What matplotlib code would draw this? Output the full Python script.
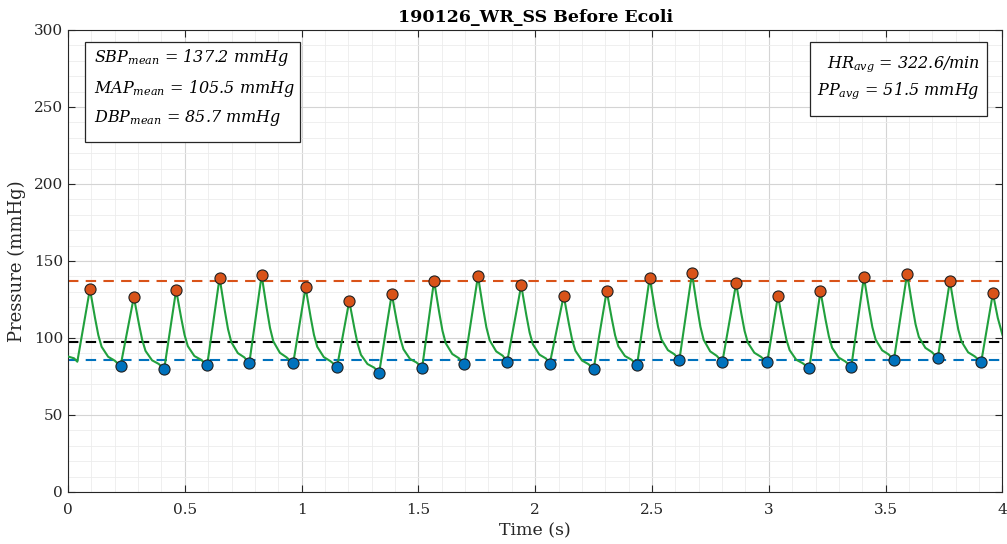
import numpy as np
import matplotlib
matplotlib.use('Agg')
import matplotlib.pyplot as plt
from matplotlib.patches import Rectangle
from matplotlib.ticker import MultipleLocator

plt.rcParams['font.family'] = ['DejaVu Serif']
plt.rcParams['mathtext.fontset'] = 'dejavuserif'

# ---- data ----
title = '190126_WR_SS Before Ecoli'

peak_t = [0.094, 0.282, 0.463, 0.649, 0.829, 1.017, 1.204, 1.386, 1.567, 1.755, 1.940,
          2.122, 2.306, 2.490, 2.671, 2.860, 3.039, 3.221, 3.407, 3.592, 3.775, 3.959]
peak_p = [131.8, 126.6, 131.2, 139.2, 140.7, 132.9, 124.0, 128.6, 137.2, 140.3, 134.2,
          127.5, 130.5, 139.2, 142.0, 135.5, 127.3, 130.3, 139.6, 141.8, 137.0, 129.0]

trough_t = [0.225, 0.412, 0.596, 0.776, 0.964, 1.152, 1.332, 1.516, 1.697, 1.880, 2.062,
            2.250, 2.436, 2.617, 2.801, 2.993, 3.173, 3.353, 3.535, 3.723, 3.909]
trough_p = [81.8, 79.9, 82.5, 83.5, 83.5, 81.4, 77.5, 80.7, 83.1, 84.6, 83.1,
            79.7, 82.5, 85.7, 84.4, 84.2, 80.3, 81.4, 85.5, 87.0, 84.4]

# pressure trace, beat by beat (peak, fall, trough)
trace_t = [0.000, 0.026, 0.040,
           0.094, 0.116, 0.130, 0.144, 0.172, 0.200, 0.225,
           0.282, 0.304, 0.318, 0.332, 0.360, 0.388, 0.412,
           0.463, 0.485, 0.499, 0.513, 0.541, 0.569, 0.596,
           0.649, 0.671, 0.685, 0.699, 0.727, 0.755, 0.776,
           0.829, 0.851, 0.865, 0.879, 0.907, 0.935, 0.964,
           1.017, 1.039, 1.053, 1.067, 1.095, 1.123, 1.152,
           1.204, 1.226, 1.240, 1.254, 1.282, 1.310, 1.332,
           1.386, 1.408, 1.422, 1.436, 1.464, 1.492, 1.516,
           1.567, 1.589, 1.603, 1.617, 1.645, 1.673, 1.697,
           1.755, 1.777, 1.791, 1.805, 1.833, 1.861, 1.880,
           1.940, 1.962, 1.976, 1.990, 2.018, 2.046, 2.062,
           2.122, 2.144, 2.158, 2.172, 2.200, 2.228, 2.250,
           2.306, 2.328, 2.342, 2.356, 2.384, 2.412, 2.436,
           2.490, 2.512, 2.526, 2.540, 2.568, 2.596, 2.617,
           2.671, 2.693, 2.707, 2.721, 2.749, 2.777, 2.801,
           2.860, 2.882, 2.896, 2.910, 2.938, 2.966, 2.993,
           3.039, 3.061, 3.075, 3.089, 3.117, 3.145, 3.173,
           3.221, 3.243, 3.257, 3.271, 3.299, 3.327, 3.353,
           3.407, 3.429, 3.443, 3.457, 3.485, 3.513, 3.535,
           3.592, 3.614, 3.628, 3.642, 3.670, 3.698, 3.723,
           3.775, 3.797, 3.811, 3.825, 3.853, 3.881, 3.909,
           3.959, 3.980, 4.000]
trace_p = [88.0, 86.8, 84.6,
           131.8, 112.8, 101.8, 94.3, 87.8, 85.3, 81.8,
           126.6, 108.9, 98.6, 91.6, 85.5, 83.2, 79.9,
           131.2, 112.7, 102.0, 94.7, 88.3, 85.9, 82.5,
           139.2, 118.0, 105.8, 97.4, 90.2, 87.4, 83.5,
           140.7, 119.0, 106.4, 97.8, 90.4, 87.5, 83.5,
           132.9, 113.3, 102.0, 94.3, 87.6, 85.0, 81.4,
           124.0, 106.3, 96.1, 89.1, 83.1, 80.8, 77.5,
           128.6, 110.4, 99.9, 92.7, 86.4, 84.1, 80.7,
           137.2, 116.6, 104.7, 96.6, 89.6, 86.9, 83.1,
           140.3, 119.1, 106.9, 98.5, 91.3, 88.5, 84.6,
           134.2, 114.8, 103.5, 95.9, 89.2, 86.7, 83.1,
           127.5, 109.3, 98.8, 91.7, 85.4, 83.0, 79.7,
           130.5, 112.3, 101.7, 94.5, 88.3, 85.9, 82.5,
           139.2, 118.9, 107.1, 99.1, 92.1, 89.4, 85.7,
           142.0, 120.1, 107.4, 98.8, 91.3, 88.4, 84.4,
           135.5, 116.0, 104.7, 97.0, 90.4, 87.8, 84.2,
           127.3, 109.4, 99.1, 92.1, 85.9, 83.6, 80.3,
           130.3, 111.7, 101.0, 93.6, 87.3, 84.8, 81.4,
           139.6, 119.0, 107.1, 99.0, 92.0, 89.3, 85.5,
           141.8, 121.0, 108.9, 100.7, 93.6, 90.8, 87.0,
           137.0, 117.0, 105.4, 97.6, 90.7, 88.1, 84.4,
           129.0, 113.0, 102.0]

sbp_mean = 137.2
map_mean = 105.5
dbp_mean = 85.7
mean_line = 97.6
hr_avg = 322.6
pp_avg = 51.5

# ---- plot ----
fig = plt.figure(figsize=(10.07, 5.44), dpi=100)
ax = fig.add_axes([0.0675, 0.0956, 0.928, 0.8493])

c_green = '#21A03D'
c_orange = '#D95319'
c_blue = '#0072BD'

ax.plot(trace_t, trace_p, color=c_green, lw=1.5, zorder=3)
ax.axhline(sbp_mean, color=c_orange, ls=(0, (5, 3.5)), lw=1.5, zorder=2)
ax.axhline(mean_line, color='black', ls=(0, (5, 3.5)), lw=1.5, zorder=2)
ax.axhline(dbp_mean, color=c_blue, ls=(0, (5, 3.5)), lw=1.5, zorder=2)
ax.plot(peak_t, peak_p, 'o', color=c_orange, mec='#202020', mew=0.8, ms=8, zorder=4)
ax.plot(trough_t, trough_p, 'o', color=c_blue, mec='#202020', mew=0.8, ms=8, zorder=4)

ax.set_xlim(0, 4)
ax.set_ylim(0, 300)
ax.xaxis.set_minor_locator(MultipleLocator(0.1))
ax.yaxis.set_major_locator(MultipleLocator(50))
ax.yaxis.set_minor_locator(MultipleLocator(10))
ax.set_xticks(np.arange(0, 4.01, 0.5))
ax.set_xticklabels(['0', '0.5', '1', '1.5', '2', '2.5', '3', '3.5', '4'])
ax.grid(which='major', color='#d4d4d4', lw=0.8)
ax.grid(which='minor', color='#ececec', lw=0.6)
ax.set_axisbelow(True)
ax.tick_params(which='both', direction='in', top=True, right=True, colors='#262626',
               labelsize=11, labelcolor='#262626')
ax.tick_params(which='major', length=5)
ax.tick_params(which='minor', length=0)
ax.tick_params(axis='x', pad=8)
for s in ax.spines.values():
    s.set_color('#262626')
    s.set_linewidth(0.8)

ax.set_xlabel('Time (s)', fontsize=12.5, color='#262626', labelpad=4)
ax.set_ylabel('Pressure (mmHg)', fontsize=13, color='#262626', labelpad=6)
ax.set_title(title, fontsize=12.5, fontweight='bold', pad=6)

# annotation boxes
ax.add_patch(Rectangle((0.0182, 0.758), 0.23, 0.216, transform=ax.transAxes,
                       fill=True, facecolor='white', edgecolor='#262626', lw=0.9, zorder=5))
ax.add_patch(Rectangle((0.794, 0.814), 0.189, 0.160, transform=ax.transAxes,
                       fill=True, facecolor='white', edgecolor='#262626', lw=0.9, zorder=5))

fs = 11.5
ax.text(0.028, 0.931, r'$SBP_{mean}$ = %.1f mmHg' % sbp_mean, transform=ax.transAxes,
        fontsize=fs, style='italic', va='baseline', ha='left', zorder=6)
ax.text(0.028, 0.864, r'$MAP_{mean}$ = %.1f mmHg' % map_mean, transform=ax.transAxes,
        fontsize=fs, style='italic', va='baseline', ha='left', zorder=6)
ax.text(0.028, 0.801, r'$DBP_{mean}$ = %.1f mmHg' % dbp_mean, transform=ax.transAxes,
        fontsize=fs, style='italic', va='baseline', ha='left', zorder=6)
ax.text(0.976, 0.920, r'$HR_{avg}$ = %.1f/min' % hr_avg, transform=ax.transAxes,
        fontsize=fs, style='italic', va='baseline', ha='right', zorder=6)
ax.text(0.976, 0.861, r'$PP_{avg}$ = %.1f mmHg' % pp_avg, transform=ax.transAxes,
        fontsize=fs, style='italic', va='baseline', ha='right', zorder=6)

plt.savefig('out.png', dpi=100)
plt.close()
